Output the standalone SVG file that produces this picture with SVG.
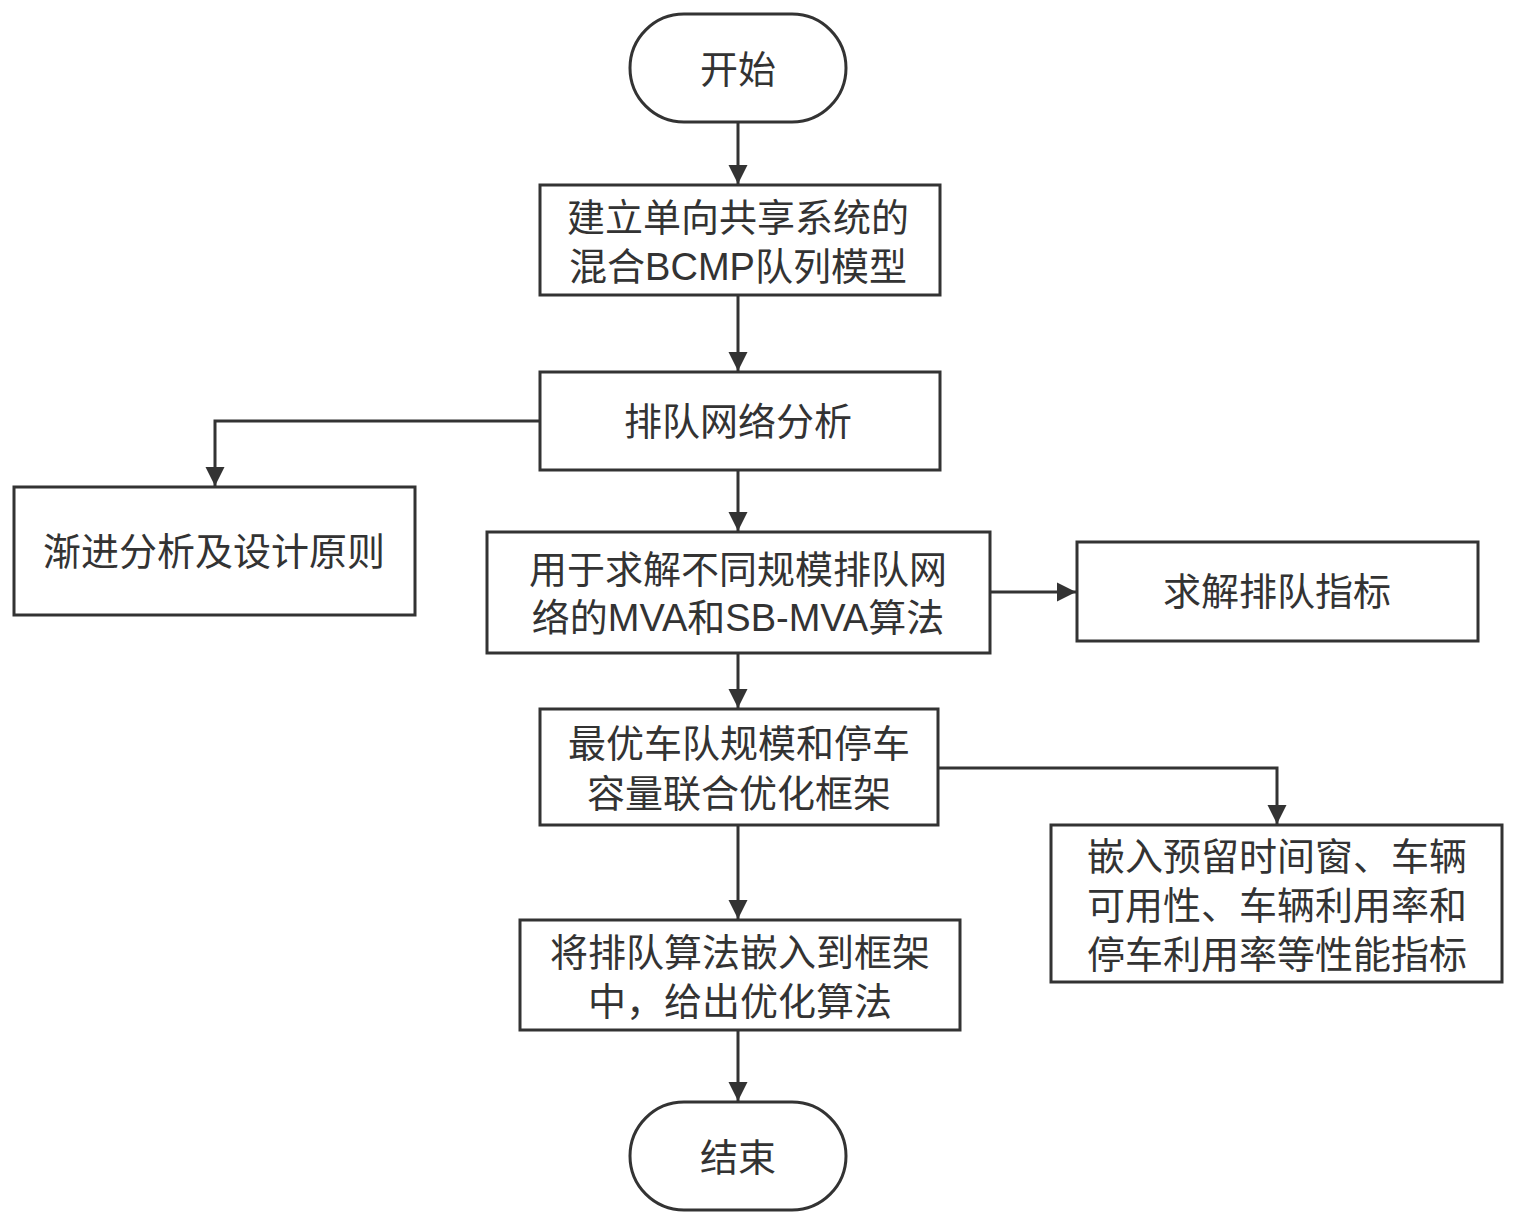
<svg xmlns="http://www.w3.org/2000/svg" width="1518" height="1226" viewBox="0 0 1518 1226">
<style>
.b{fill:#fff;stroke:#333;stroke-width:3}
.t{font-family:"Liberation Sans","Noto Sans CJK SC",sans-serif;font-size:38px;fill:#333;text-anchor:middle;dominant-baseline:central}
.c{fill:none;stroke:#333;stroke-width:3}
</style>
<defs><marker id="m" viewBox="0 0 10 10" refX="10" refY="5" markerWidth="6.5" markerHeight="6.5" orient="auto"><path d="M0,0L10,5L0,10z" fill="#333"/></marker></defs>
<rect width="1518" height="1226" fill="#fff"/>
<g id="connectors">
<path class="c" marker-end="url(#m)" d="M738,122V184"/>
<path class="c" marker-end="url(#m)" d="M738,295V371"/>
<path class="c" marker-end="url(#m)" d="M540,421H215V486"/>
<path class="c" marker-end="url(#m)" d="M738,470V531"/>
<path class="c" marker-end="url(#m)" d="M990,592H1076"/>
<path class="c" marker-end="url(#m)" d="M738,653V708"/>
<path class="c" marker-end="url(#m)" d="M938,768H1277V824"/>
<path class="c" marker-end="url(#m)" d="M738,825V919"/>
<path class="c" marker-end="url(#m)" d="M738,1030V1101"/>
</g>
<g id="start"><rect class="b" x="630" y="14" width="216" height="108" rx="54"/><text class="t" x="738" y="70">开始</text></g>
<g id="n1"><rect class="b" x="540" y="185" width="400" height="110"/><text class="t" x="738" y="218">建立单向共享系统的</text><text class="t" x="738" y="267">混合BCMP队列模型</text></g>
<g id="n2"><rect class="b" x="540" y="372" width="400" height="98"/><text class="t" x="738" y="422">排队网络分析</text></g>
<g id="n3"><rect class="b" x="14" y="487" width="401" height="128"/><text class="t" x="214" y="552">渐进分析及设计原则</text></g>
<g id="n4"><rect class="b" x="487" y="532" width="503" height="121"/><text class="t" x="738" y="570">用于求解不同规模排队网</text><text class="t" x="738" y="618">络的MVA和SB-MVA算法</text></g>
<g id="n5"><rect class="b" x="1077" y="542" width="401" height="99"/><text class="t" x="1277" y="592">求解排队指标</text></g>
<g id="n6"><rect class="b" x="540" y="709" width="398" height="116"/><text class="t" x="739" y="744">最优车队规模和停车</text><text class="t" x="739" y="794">容量联合优化框架</text></g>
<g id="n7"><rect class="b" x="1051" y="825" width="451" height="157"/><text class="t" x="1277" y="857">嵌入预留时间窗、车辆</text><text class="t" x="1277" y="906">可用性、车辆利用率和</text><text class="t" x="1277" y="955">停车利用率等性能指标</text></g>
<g id="n8"><rect class="b" x="520" y="920" width="440" height="110"/><text class="t" x="740" y="953">将排队算法嵌入到框架</text><text class="t" x="740" y="1002">中，给出优化算法</text></g>
<g id="end"><rect class="b" x="630" y="1102" width="216" height="108" rx="54"/><text class="t" x="738" y="1158">结束</text></g>
</svg>
